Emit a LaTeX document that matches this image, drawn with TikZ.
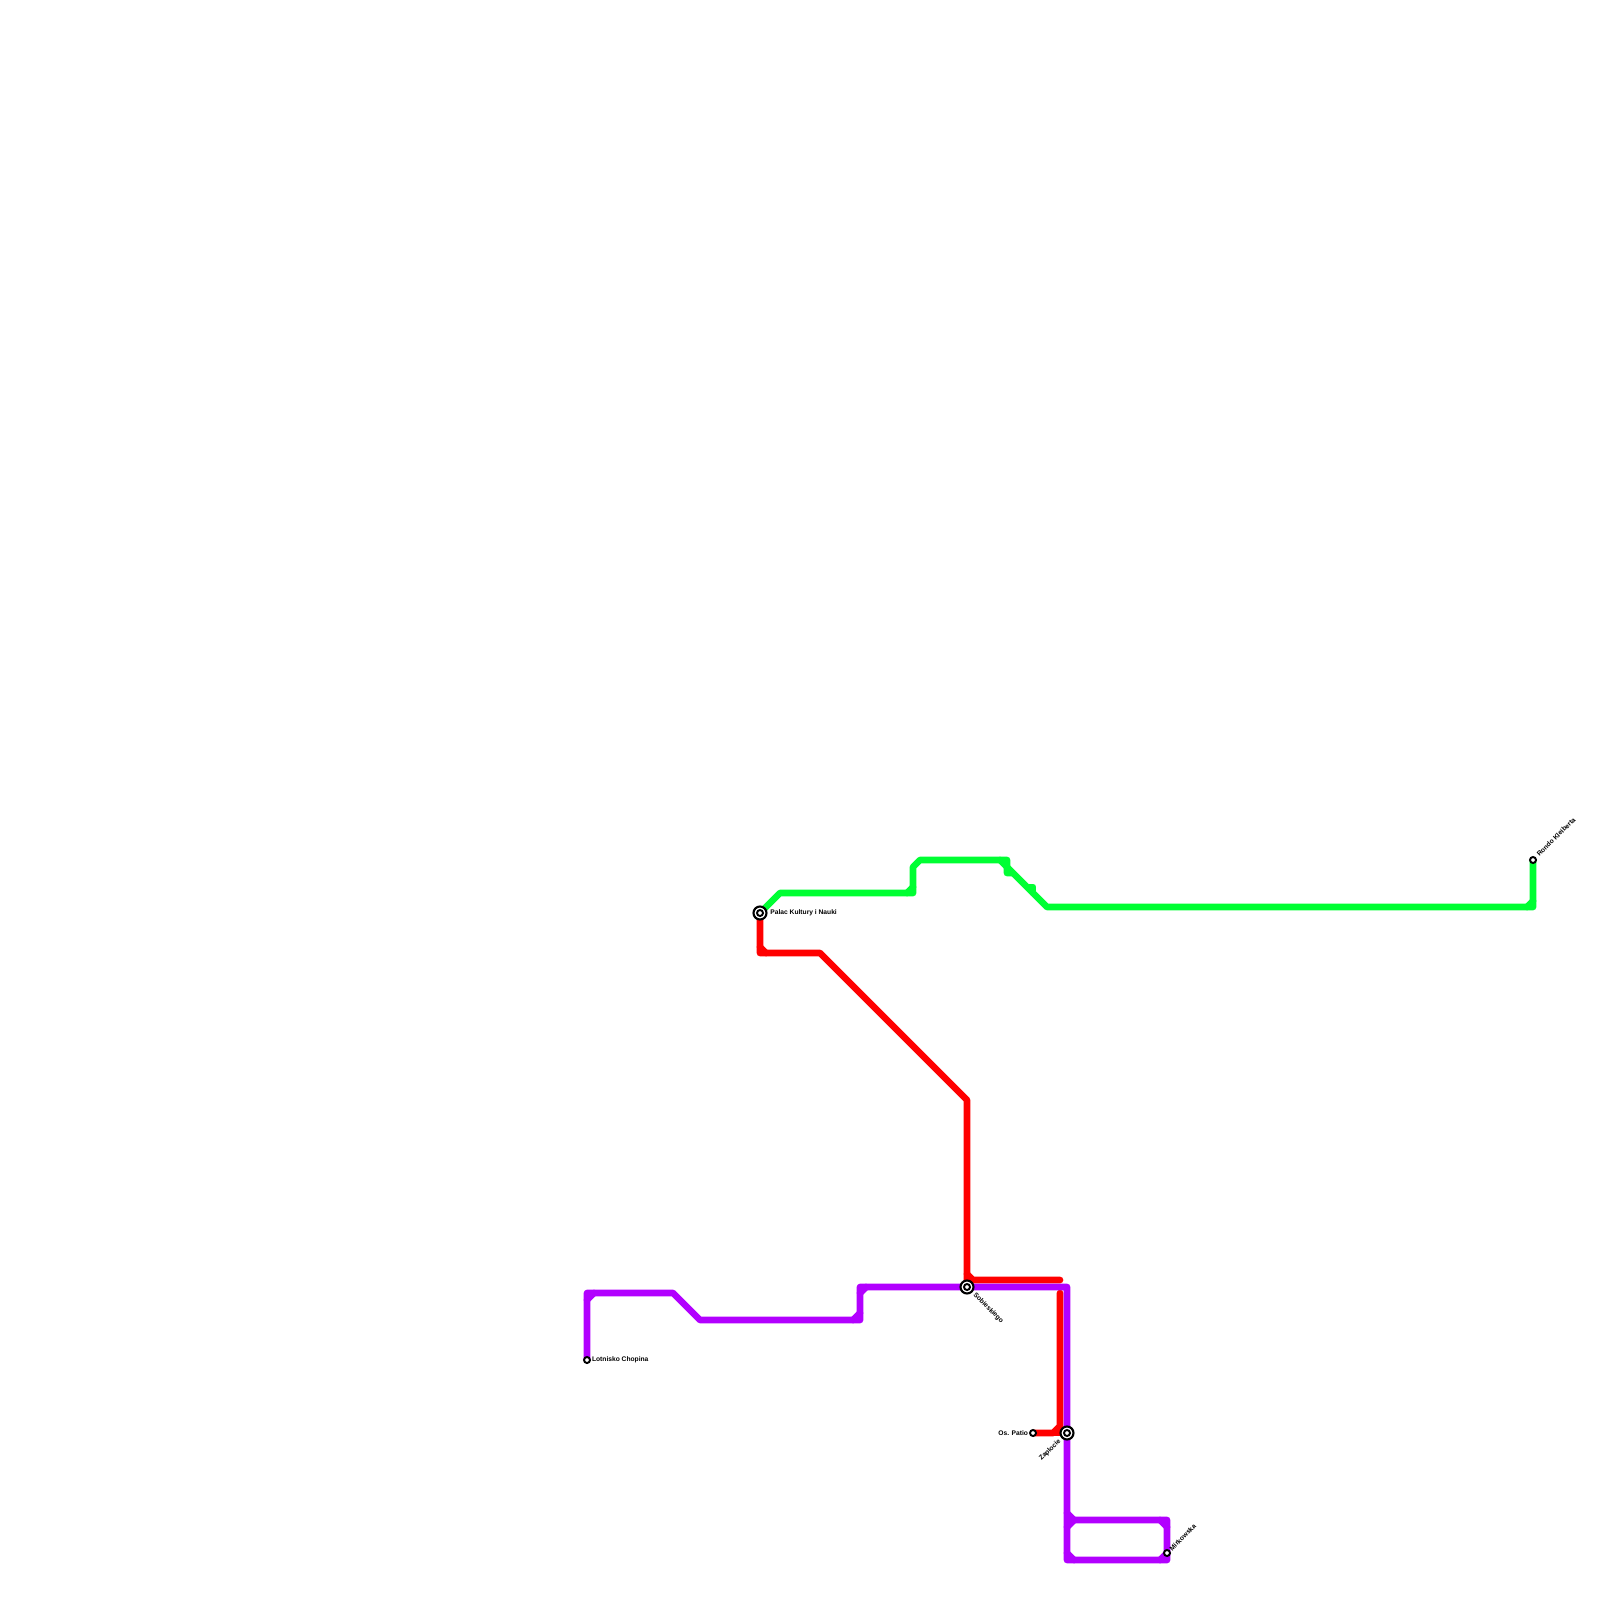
\documentclass[tikz,border=0pt]{standalone}
\usepackage{fontspec}
\setmainfont{Liberation Sans}
\usepackage{tikz}

\begin{document}
\begin{tikzpicture}[x=0.01cm, y=-0.01cm,
    track/.style={line width=1.9pt, line cap=round, line join=round},
    station/.style={circle, draw=black, fill=white, line width=0.55pt, minimum size=0.06cm, inner sep=0pt},
    hub/.style={circle, draw=black, fill=white, line width=0.6pt, minimum size=0.13cm, inner sep=0pt},
    lbl/.style={font=\fontsize{1.9}{2.2}\selectfont\bfseries, text=black, inner sep=0.6pt}]
  \definecolor{metrogreen}{RGB}{0,255,51}
  \definecolor{metrored}{RGB}{255,0,0}
  \definecolor{metropurple}{RGB}{178,0,255}
  \useasboundingbox (0,0) rectangle (1600,1600);

  % stations
  \coordinate (P1) at (760,913);
  \coordinate (Z1) at (1533,860);
  \coordinate (S1) at (967,1287);
  \coordinate (L1) at (587,1360);
  \coordinate (O1) at (1033,1433);
  \coordinate (Q1) at (1067,1433);
  \coordinate (M1) at (1167,1553);

  % green
  \draw [track, metrogreen] (P1) -- (780,893) -- (913,893) -- (913,867) -- (920,860) -- (1007,860) -- (1007,873) -- (1012,873);
  \draw [track, metrogreen] (1000,860) -- (1047,907) -- (1533,907) -- (Z1);
  \draw [track, metrogreen] (907,893) -- (913,887);
  \draw [track, metrogreen] (1033,893) -- (1033,887) -- (1029,887);
  \draw [track, metrogreen] (1527,907) -- (1533,901);

  % red
  \draw [track, metrored] (P1) -- (760,953) -- (820,953) -- (967,1100) -- (S1);
  \draw [track, metrored] (760,947) -- (766,953);
  \draw [track, metrored] (967,1274) -- (973,1280) -- (1060,1280);
  \draw [track, metrored] (1060,1293) -- (1060,1426) -- (1053,1433) -- (O1);
  \draw [track, metrored] (1053,1433) -- (Q1);

  % purple
  \draw [track, metropurple] (L1) -- (587,1293) -- (673,1293) -- (700,1320) -- (860,1320) -- (860,1287) -- (1067,1287) -- (1067,1560) -- (1167,1560) -- (1167,1520) -- (1067,1520);
  \draw [track, metropurple] (587,1300) -- (594,1293);
  \draw [track, metropurple] (853,1320) -- (860,1313);
  \draw [track, metropurple] (860,1293) -- (866,1287);
  \draw [track, metropurple] (1067,1513) -- (1074,1520) -- (1067,1527);
  \draw [track, metropurple] (1067,1553) -- (1074,1560);
  \draw [track, metropurple] (1160,1520) -- (1167,1527);
  \draw [track, metropurple] (1160,1560) -- (1167,1553);

  % station marks
  \node [hub] (P2) at (P1) {};
  \node [station] (P3) at (P1) {};
  \node [hub] (S2) at (S1) {};
  \node [station] (S3) at (S1) {};
  \node [hub] (Q2) at (Q1) {};
  \node [station] (Q3) at (Q1) {};
  \node [station] (Z2) at (Z1) {};
  \node [station] (L2) at (L1) {};
  \node [station] (O2) at (O1) {};
  \node [station] (M2) at (M1) {};

  % labels
  \node [lbl, anchor=west] (Pt) at (P2.east) {Palac Kultury i Nauki};
  \node [lbl, anchor=west, rotate=45] (Zt) at (Z2.north east) {Rondo Kleiberta};
  \node [lbl, anchor=west, rotate=-45] (St) at (S2.south east) {Sobieskiego};
  \node [lbl, anchor=west, inner sep=0.1pt] (Lt) at (L2.east) {Lotnisko Chopina};
  \node [lbl, anchor=east, inner sep=0.1pt] (Ot) at (O2.west) {Os. Patio};
  \node [lbl, anchor=east, rotate=45] (Qt) at (Q2.south west) {Zaplocie};
  \node [lbl, anchor=west, rotate=45, inner sep=0.1pt] (Mt) at (M2.north east) {Mirkowska};
\end{tikzpicture}
\end{document}
